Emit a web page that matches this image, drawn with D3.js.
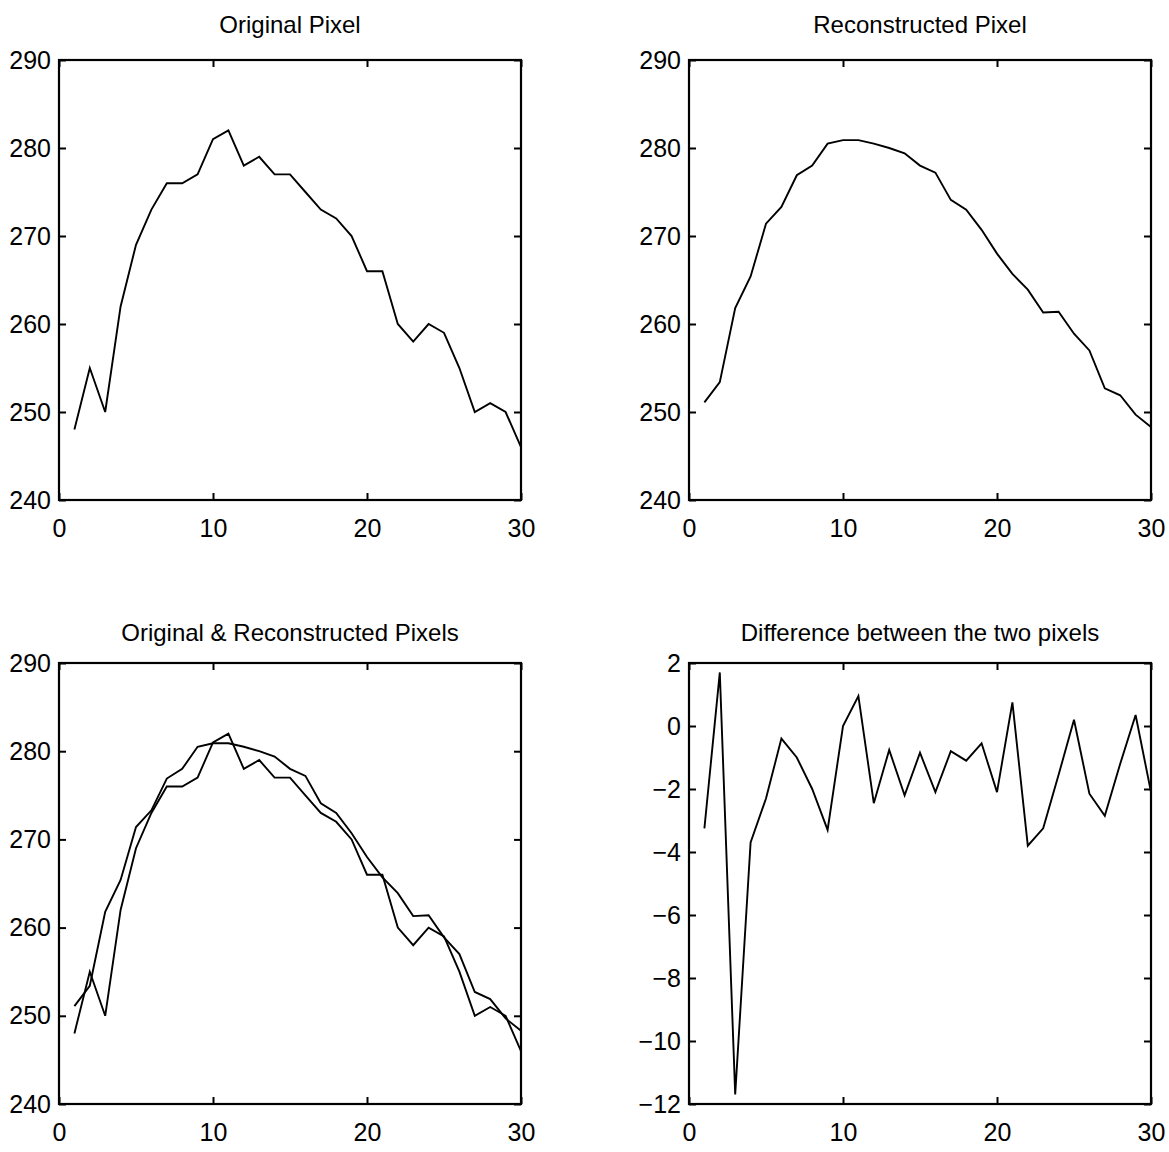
<!DOCTYPE html>
<html lang="en">
<head>
<meta charset="UTF-8">
<script src="https://cdnjs.cloudflare.com/ajax/libs/d3/7.8.5/d3.min.js"></script>
<title>Pixels</title>
<style>
  body { margin: 0; background: #fff; }
  text { font-family: "Liberation Sans", Arial, sans-serif; fill: #000; }
</style>
</head>
<body>
<div id="chart"></div>
<script>

// pixel index 1..30
var samples = d3.range(1, 31)

// values
var original = [248, 255, 250, 262, 269, 273, 276, 276, 277, 281,
                282, 278, 279, 277, 277, 275, 273, 272, 270, 266,
                266, 260, 258, 260, 259, 255, 250, 251, 250, 246]

var reconstructed = [251.1, 253.4, 261.8, 265.4, 271.4, 273.3, 276.9, 278.0, 280.5, 280.9,
                     280.9, 280.5, 280.0, 279.4, 278.0, 277.2, 274.1, 273.0, 270.7, 268.0,
                     265.7, 263.9, 261.3, 261.4, 258.9, 257.0, 252.7, 251.9, 249.7, 248.3]

var difference = [-3.25, 1.7, -11.7, -3.7, -2.3, -0.4, -1.0, -2.0, -3.3, 0.0,
                  0.95, -2.45, -0.76, -2.2, -0.85, -2.1, -0.8, -1.1, -0.55, -2.1,
                  0.75, -3.8, -3.25, -1.55, 0.2, -2.15, -2.85, -1.2, 0.35, -2.1]

var xTicks = [0, 10, 20, 30]
var pixelTicks = [240, 250, 260, 270, 280, 290]
var diffTicks = [-12, -10, -8, -6, -4, -2, 0, 2]

var width = 1169, height = 1152

var svg = d3.select("#chart")
  .append("svg")
    .attr("width", width)
    .attr("height", height)

// one panel = box with inward ticks on all four sides
function panel(opts) {
  var w = opts.right - opts.left,
      h = opts.bottom - opts.top

  var g = svg.append("g")
    .attr("transform", "translate(" + opts.left + "," + opts.top + ")")

  var x = d3.scaleLinear().domain([0, 30]).range([0, w])
  var y = d3.scaleLinear().domain(opts.yDomain).range([h, 0])

  var fmt = function(d) { return d < 0 ? "\u2212" + Math.abs(d) : "" + d }

  g.append("g")
    .attr("transform", "translate(0," + h + ")")
    .call(d3.axisBottom(x).tickValues(xTicks).tickSizeInner(-7).tickSizeOuter(0).tickPadding(19))
  g.append("g")
    .call(d3.axisTop(x).tickValues(xTicks).tickSizeInner(-7).tickSizeOuter(0).tickFormat(""))
  g.append("g")
    .call(d3.axisLeft(y).tickValues(opts.yTicks).tickSizeInner(-7).tickSizeOuter(0).tickPadding(8).tickFormat(fmt))
  g.append("g")
    .attr("transform", "translate(" + w + ",0)")
    .call(d3.axisRight(y).tickValues(opts.yTicks).tickSizeInner(-7).tickSizeOuter(0).tickFormat(""))

  g.selectAll(".domain").remove()
  g.selectAll(".tick line").attr("stroke", "#000").attr("stroke-width", 2)
  g.selectAll(".tick text")
    .style("font-size", "25px")
    .style("font-family", "'Liberation Sans', Arial, sans-serif")
    .attr("fill", "#000")

  g.append("rect")
    .attr("width", w)
    .attr("height", h)
    .attr("fill", "none")
    .attr("stroke", "#000")
    .attr("stroke-width", 2.2)

  var line = d3.line()
    .x(function(d, i) { return x(samples[i]) })
    .y(function(d) { return y(d) })

  opts.series.forEach(function(s) {
    g.append("path")
      .datum(s)
      .attr("d", line)
      .attr("fill", "none")
      .attr("stroke", "#000")
      .attr("stroke-width", 1.9)
      .attr("stroke-linejoin", "miter")
  })

  g.append("text")
    .attr("x", w / 2)
    .attr("y", -opts.titleGap)
    .attr("text-anchor", "middle")
    .style("font-size", "24px")
    .text(opts.title)
}

panel({ left: 59, right: 521, top: 60, bottom: 500, titleGap: 27,
        yDomain: [240, 290], yTicks: pixelTicks,
        series: [original], title: "Original Pixel" })

panel({ left: 689, right: 1151, top: 60, bottom: 500, titleGap: 27,
        yDomain: [240, 290], yTicks: pixelTicks,
        series: [reconstructed], title: "Reconstructed Pixel" })

panel({ left: 59, right: 521, top: 663, bottom: 1104, titleGap: 22,
        yDomain: [240, 290], yTicks: pixelTicks,
        series: [original, reconstructed], title: "Original & Reconstructed Pixels" })

panel({ left: 689, right: 1151, top: 663, bottom: 1104, titleGap: 22,
        yDomain: [-12, 2], yTicks: diffTicks,
        series: [difference], title: "Difference between the two pixels" })

</script>
</body>
</html>
